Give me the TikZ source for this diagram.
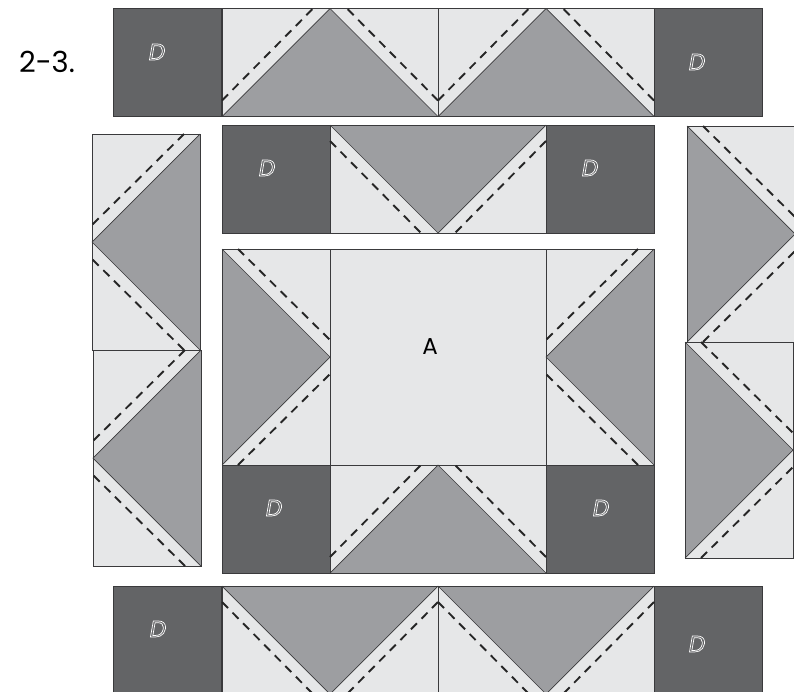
\documentclass[tikz,border=0pt]{standalone}
\usepackage{fontspec}
\setmainfont{Poppins}
\definecolor{lightpatch}{HTML}{E6E7E8}
\definecolor{midpatch}{HTML}{9D9EA1}
\definecolor{darkpatch}{HTML}{636466}
\definecolor{seamline}{HTML}{3A3A3C}
\newcommand{\outlineletter}[1]{\special{pdf:code q 1 Tr 0.7 w 1 1 1 RG}#1\special{pdf:code Q}}
\tikzset{
  patchedge/.style={draw=seamline,line width=0.9pt},
  stitch/.style={black!85,line width=1.9pt,dash pattern=on 8.5pt off 6.5pt},
  dlabel/.style={font=\fontsize{23}{23}\selectfont\itshape},
  goose/.pic={
    \fill[lightpatch] (-108,-54) rectangle (108,54);
    \fill[midpatch] (-108,54)--(0,-54)--(108,54)--cycle;
    \draw[seamline,line width=0.7pt] (-108,54)--(0,-54)--(108,54);
    \draw[patchedge] (-108,-54) rectangle (108,54);
    \draw[stitch] (-108,38)--(-16,-55);
    \draw[stitch] (108,38)--(16,-55);
  }
}
\begin{document}
\begin{tikzpicture}[x=1pt,y=-1pt]
  \useasboundingbox (0,0) rectangle (794,691);
  \clip (0,0) rectangle (794,691);
  % plain squares
  \foreach \sx/\sy in {113/8,654/8,222/125,546/125,222/465,546/465,113/586,654/586}
    \fill[darkpatch,patchedge] (\sx,\sy) rectangle ++(108,108);
  \fill[lightpatch,patchedge] (330,249) rectangle (546,465);
  % flying geese: centre and turn
  \foreach \gx/\gy/\gr in {330/62.5/0,546/62.5/0,438/179/180,276/357/270,600/357/90,
      438/519/0,330/640/180,546/640/180,146/242/90,147/458/90,741/234/270,739/450/270}
    \pic[shift={(\gx,\gy)},rotate=\gr] {goose};
  % labels
  \node[font=\fontsize{29}{29}\selectfont] (steplabel) at (47,62) {2-3.};
  \node[font=\fontsize{23}{23}\selectfont] (alabel) at (430,347) {A};
  \foreach \lx/\ly [count=\li] in {157/52,697/62,267/168,590/168,274/508,601/508,158/629,697/644}
    \node[dlabel,text=white] (dlabel\li) at (\lx,\ly) {\outlineletter{D}};
\end{tikzpicture}
\end{document}
